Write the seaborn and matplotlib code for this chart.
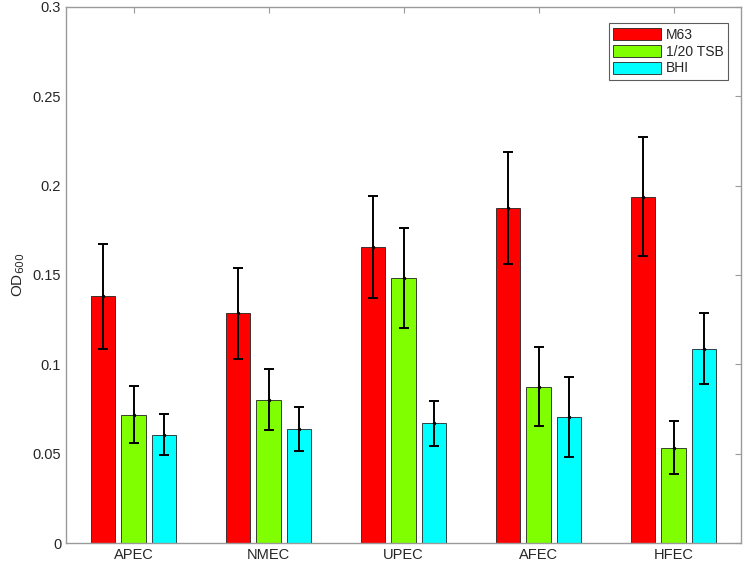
import numpy as np
import pandas as pd
import matplotlib
matplotlib.use("Agg")
import matplotlib.pyplot as plt
import seaborn as sns

groups = ['APEC', 'NMEC', 'UPEC', 'AFEC', 'HFEC']
media = ['M63', '1/20 TSB', 'BHI']
m63 = [0.138, 0.1285, 0.1657, 0.1875, 0.1938]
tsb = [0.0719, 0.0802, 0.1483, 0.0875, 0.0534]
bhi = [0.0607, 0.0639, 0.0669, 0.0706, 0.1087]
m63_err = [0.0292, 0.0254, 0.0285, 0.0312, 0.0334]
tsb_err = [0.0162, 0.0170, 0.0282, 0.0221, 0.0148]
bhi_err = [0.0113, 0.0124, 0.0124, 0.0222, 0.0200]

colors = ['#ff0000', '#80ff00', '#00ffff']

df = pd.DataFrame({
    'group': groups * 3,
    'medium': [m for m in media for _ in groups],
    'od': m63 + tsb + bhi,
    'err': m63_err + tsb_err + bhi_err,
})

sns.set_style('white')
plt.rcParams['font.family'] = ['Liberation Sans', 'DejaVu Sans']

fig = plt.figure(figsize=(7.5, 5.71), dpi=100)
ax = fig.add_axes([0.088, 0.049, 0.9, 0.939])

sns.barplot(data=df, x='group', y='od', hue='medium', order=groups,
            hue_order=media, palette=colors, saturation=1, width=0.667,
            gap=0.2, errorbar=None, edgecolor='#222222', linewidth=0.6, ax=ax)

# error bars at the bar centres
for cont, m in zip(ax.containers, media):
    sub = df[df['medium'] == m].set_index('group').loc[groups]
    xs = [p.get_x() + p.get_width() / 2 for p in cont.patches]
    ax.errorbar(xs, sub['od'], yerr=sub['err'], fmt='.', color='black',
                markersize=3, elinewidth=1.4, capsize=3.8, capthick=1.4)

ax.set_xlim(-0.5, 4.5)
ax.set_ylim(0, 0.3)
ax.set_yticks(np.arange(0, 0.301, 0.05))
ax.set_yticklabels(['0', '0.05', '0.1', '0.15', '0.2', '0.25', '0.3'])
ax.set_xlabel('')
ax.set_ylabel('OD$_{600}$', fontsize=11, color='#262626', labelpad=4)

for s in ax.spines.values():
    s.set_visible(True)
    s.set_color('#9a9a9a')
    s.set_linewidth(1.0)
ax.tick_params(direction='in', length=4, color='#9a9a9a', labelsize=10.5,
               labelcolor='#262626', top=True, right=True)

leg = ax.legend(loc='upper right', bbox_to_anchor=(0.981, 0.970),
                borderaxespad=0, fontsize=10, frameon=True, fancybox=False,
                edgecolor='#333333', handlelength=3.4, handleheight=0.95,
                borderpad=0.35, labelspacing=0.2, handletextpad=0.35)
leg.get_frame().set_linewidth(0.8)

fig.savefig('out.png', dpi=100)
